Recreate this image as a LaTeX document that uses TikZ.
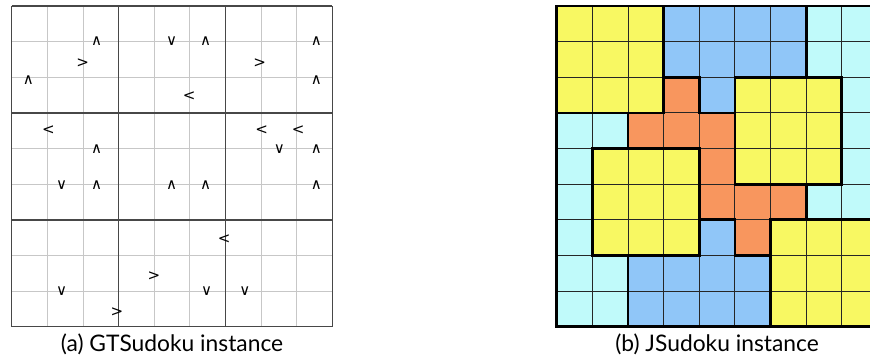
\documentclass[tikz,border=0pt]{standalone}
\usepackage{fontspec}
\setmainfont{Lato}
\newfontfamily\symfont{DejaVu Sans}
\usetikzlibrary{positioning}

\definecolor{jyellow}{HTML}{F8F862}
\definecolor{jblue}{HTML}{90C6F8}
\definecolor{jcyan}{HTML}{C0FAFA}
\definecolor{jorange}{HTML}{F8965E}
% one colour per jigsaw region
\colorlet{regA}{jyellow}
\colorlet{regB}{jblue}
\colorlet{regC}{jcyan}
\colorlet{regD}{jorange}
\colorlet{regE}{jyellow}
\colorlet{regF}{jcyan}
\colorlet{regG}{jyellow}
\colorlet{regH}{jblue}
\colorlet{regI}{jyellow}

\tikzset{
  thinline/.style={draw=black!22, line width=0.7pt},
  boxline/.style={draw=black!72, line width=1.1pt},
  ineq/.style={inner sep=0pt, font=\symfont\fontsize{12}{12}\selectfont},
  cellline/.style={draw=black!85, line width=0.7pt},
  region/.style={draw=black, line width=2.2pt, line join=miter},
  caption/.style={font=\fontsize{18.2}{20}\selectfont}
}

\begin{document}
\begin{tikzpicture}
  \useasboundingbox (-0.328,-0.917) rectangle (24.08,9.168);

  % (a) GTSudoku grid
  \draw[thinline] (0,0) grid (9,9);
  \draw[boxline, step=3] (0,0) grid (9,9);
  \foreach \x/\y/\s [count=\i] in {
    2.38/8/∧, 4.49/8/∨, 5.44/8/∧, 8.55/8/∧,
    1.99/7.41/>, 6.96/7.41/>,
    0.47/6.93/∧, 8.55/6.93/∧, 4.98/6.48/<,
    1.03/5.52/<, 7.01/5.52/<, 8.04/5.52/<,
    2.38/4.97/∧, 7.51/4.97/∨, 8.55/4.97/∧,
    1.40/3.98/∨, 2.38/3.98/∧, 4.49/3.98/∧, 5.44/3.98/∧, 8.55/3.98/∧,
    5.96/2.46/<, 3.99/1.43/>,
    1.40/1.0/∨, 5.47/1.0/∨, 6.54/1.0/∨,
    2.95/0.4/>%
  }{
    \node[ineq] (q\i) at (\x,\y) {\s};
  }
  \node[caption] (capA) at (4.5,-0.5) {(a) GTSudoku instance};

  % (b) JSudoku grid, cut off at the right
  \begin{scope}[xshift=15.29cm]
    \clip (-0.2,-0.2) rectangle (8.79,9.2);
    \foreach \row [count=\r from 0] in {
      {A,A,A,B,B,B,B,C,C},
      {A,A,A,B,B,B,B,C,C},
      {A,A,A,D,B,E,E,E,C},
      {F,F,D,D,D,E,E,E,C},
      {F,G,G,G,D,E,E,E,C},
      {F,G,G,G,D,D,D,C,C},
      {F,G,G,G,H,D,I,I,I},
      {F,F,H,H,H,H,I,I,I},
      {F,F,H,H,H,H,I,I,I}%
    }{
      \foreach \reg [count=\c from 0] in \row
        \fill[reg\reg] (\c,8-\r) rectangle ++(1,1);
    }
    \draw[cellline] (0,0) grid (9,9);
    % region borders
    \draw[region] (0,0) rectangle (9,9);
    \draw[region] (0,6) rectangle (3,9);
    \draw[region] (3,9) -- (7,9) -- (7,7) -- (5,7) -- (5,6) -- (4,6) -- (4,7) -- (3,7) -- cycle;
    \draw[region] (7,7) -- (8,7) -- (8,4) -- (7,4) -- (7,3) -- (9,3);
    \draw[region] (3,7) -- (4,7) -- (4,6) -- (5,6) -- (5,4) -- (7,4) -- (7,3) -- (6,3) -- (6,2)
      -- (5,2) -- (5,3) -- (4,3) -- (4,5) -- (2,5) -- (2,6) -- (3,6) -- cycle;
    \draw[region] (5,4) rectangle (8,7);
    \draw[region] (2,6) -- (2,5) -- (1,5) -- (1,2) -- (2,2) -- (2,0);
    \draw[region] (1,2) rectangle (4,5);
    \draw[region] (4,3) -- (4,2) -- (2,2);
    \draw[region] (6,0) rectangle (9,3);
  \end{scope}
  \node[caption] (capB) at (19.79,-0.5) {(b) JSudoku instance};
\end{tikzpicture}
\end{document}
